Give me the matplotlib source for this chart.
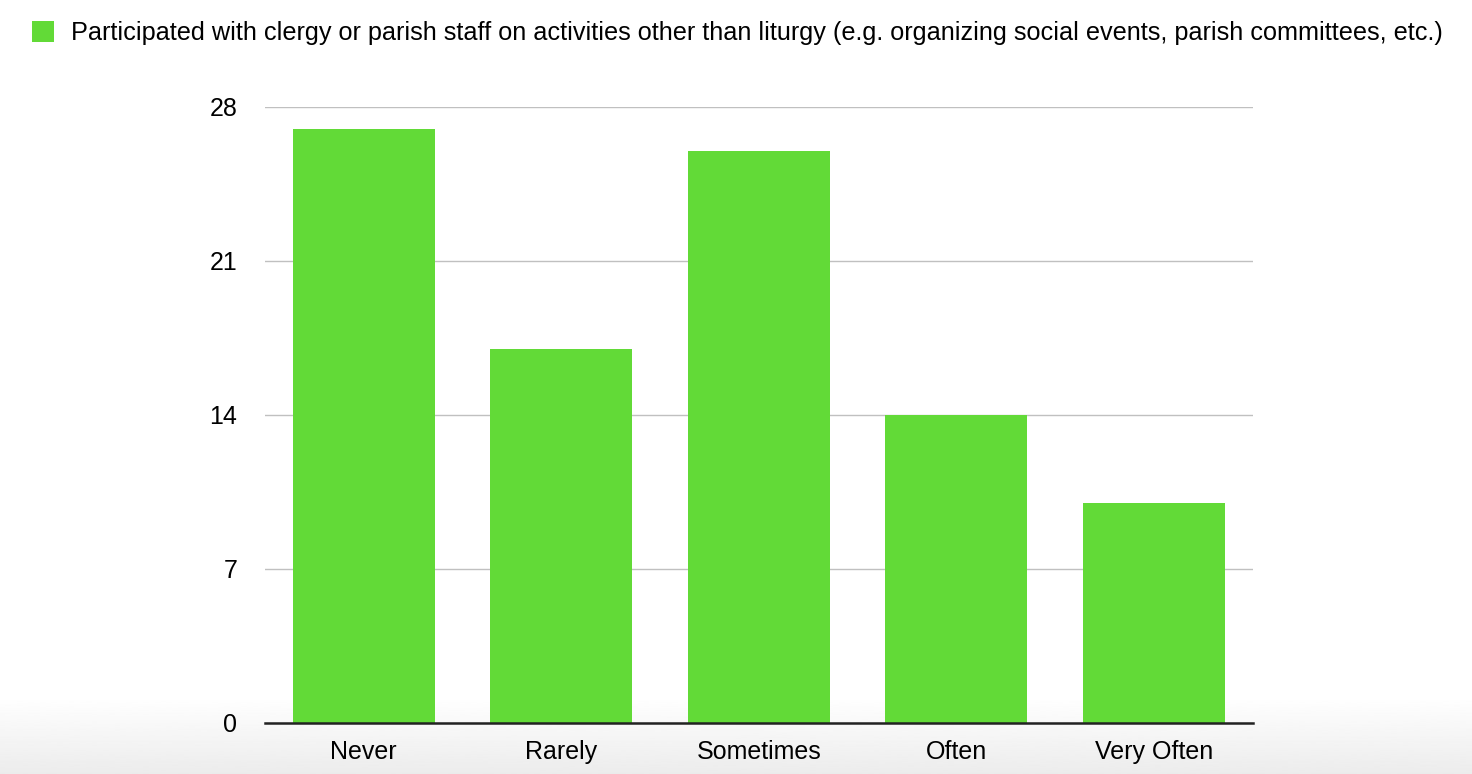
import numpy as np
import matplotlib.pyplot as plt

plt.rcParams['font.family'] = ['Liberation Sans', 'DejaVu Sans']

categories = ['Never', 'Rarely', 'Sometimes', 'Often', 'Very Often']
counts = [27, 17, 26, 14, 10]
series_name = ('Participated with clergy or parish staff on activities other than liturgy '
               '(e.g. organizing social events, parish committees, etc.)')
yticks = [0, 7, 14, 21, 28]

green = '#62da37'

fig = plt.figure(figsize=(14.72, 7.74), dpi=100)

# faint grey shading along the bottom edge of the picture
bg = fig.add_axes([0, 0, 1, 0.1], zorder=0)
shade = np.linspace(0.925, 1.0, 100).reshape(-1, 1)
bg.imshow(shade, aspect='auto', cmap='gray', vmin=0, vmax=1, origin='lower',
          extent=[0, 1, 0, 1])
bg.axis('off')

ax = fig.add_axes([0.180, 0.0659, 0.671, 0.7959], zorder=1)
ax.patch.set_alpha(0)

x = np.arange(len(categories))
ax.bar(x, counts, width=0.72, color=green, label=series_name, zorder=3)

ax.set_xlim(-0.5, len(categories) - 0.5)
ax.set_ylim(0, 28)
ax.set_yticks(yticks)
ax.set_xticks(x)
ax.set_xticklabels(categories)
ax.grid(axis='y', color='#c0c0c0', linewidth=1, zorder=0)
ax.tick_params(axis='y', length=0, pad=20, labelsize=18)
ax.tick_params(axis='x', length=0, pad=12, labelsize=18)
for side in ['top', 'right', 'left']:
    ax.spines[side].set_visible(False)
ax.spines['bottom'].set_color('#222222')
ax.spines['bottom'].set_linewidth(1.8)
ax.spines['bottom'].set_zorder(4)

fig.legend(loc='upper left', bbox_to_anchor=(0.015, 0.9855), frameon=False,
           borderaxespad=0, fontsize=18.2, handlelength=0.88, handleheight=0.88,
           handletextpad=0.64)

fig.savefig('out.png', dpi=100)
